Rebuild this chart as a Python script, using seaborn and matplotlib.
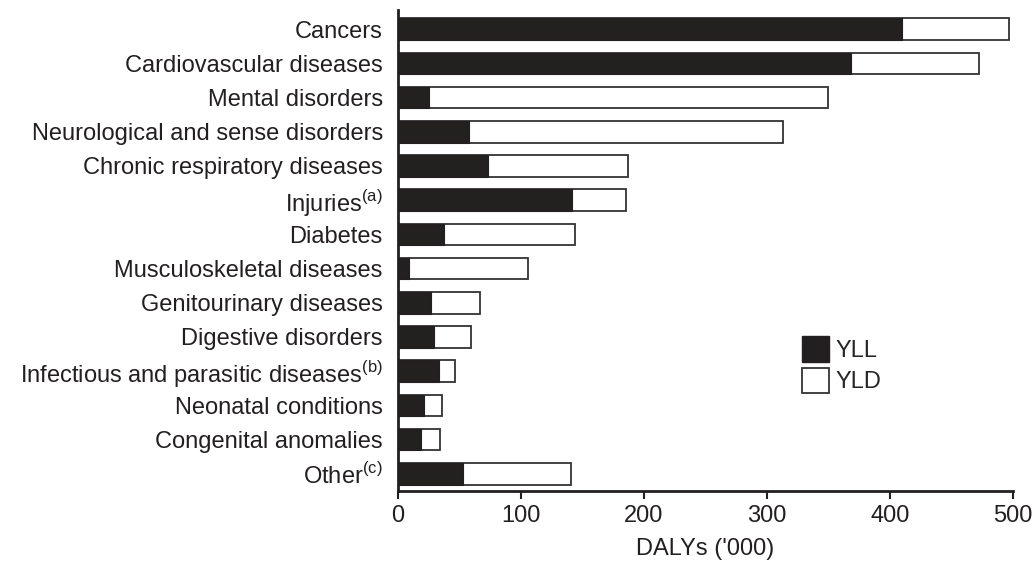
import pandas as pd
import matplotlib.pyplot as plt
import seaborn as sns
from matplotlib.patches import Patch

# data ('000 DALYs)
categories = [
    "Cancers",
    "Cardiovascular diseases",
    "Mental disorders",
    "Neurological and sense disorders",
    "Chronic respiratory diseases",
    "Injuries$^{\\mathregular{(a)}}$",
    "Diabetes",
    "Musculoskeletal diseases",
    "Genitourinary diseases",
    "Digestive disorders",
    "Infectious and parasitic diseases$^{\\mathregular{(b)}}$",
    "Neonatal conditions",
    "Congenital anomalies",
    "Other$^{\\mathregular{(c)}}$",
]
yll = [410, 368, 25, 57.5, 73.5, 141.5, 37, 9, 27, 29.5, 33.5, 21.5, 19, 53]
dalys = [497, 472, 349.5, 313, 187, 185, 144, 105.5, 67, 59.5, 46, 36, 34.5, 140.5]

df = pd.DataFrame({"category": categories, "YLL": yll, "DALY": dalys})

sns.set_theme(style="white")
plt.rcParams["font.family"] = ["Liberation Sans", "DejaVu Sans"]
plt.rcParams["mathtext.fontset"] = "custom"
plt.rcParams["mathtext.rm"] = "Liberation Sans"

black = "#231f20"
fs = 17

fig = plt.figure(figsize=(10.32, 5.63), dpi=100)
ax = fig.add_axes([0.3857, 0.128, 0.5959, 0.854])

# total bar (YLL + YLD) drawn first, YLL on top
sns.barplot(data=df, y="category", x="DALY", orient="h", color="white",
            edgecolor="#333333", linewidth=1.3, width=0.63, ax=ax)
sns.barplot(data=df, y="category", x="YLL", orient="h", color=black,
            edgecolor=black, linewidth=0.8, width=0.63, ax=ax)

ax.set_xlim(0, 500)
ax.set_ylim(13.5, -0.555)
ax.set_xticks([0, 100, 200, 300, 400, 500])
ax.set_xlabel("DALYs ('000)", fontsize=fs, color=black, labelpad=8)
ax.set_ylabel("")
ax.tick_params(axis="x", labelsize=fs, colors=black, length=6, width=1.5,
               direction="out", bottom=True, pad=4)
ax.tick_params(axis="y", labelsize=fs, colors=black, length=0, pad=11)

for side in ["top", "right"]:
    ax.spines[side].set_visible(False)
for side in ["left", "bottom"]:
    ax.spines[side].set_color(black)
    ax.spines[side].set_linewidth(2)

handles = [Patch(facecolor=black, edgecolor=black, label="YLL"),
           Patch(facecolor="white", edgecolor="#333333", linewidth=1.3, label="YLD")]
ax.legend(handles=handles, loc="upper left", bbox_to_anchor=(0.637, 0.347),
          frameon=False, fontsize=fs, handlelength=1.15, handleheight=1.3,
          handletextpad=0.3, labelspacing=0.25, borderpad=0)

fig.savefig("out.png", dpi=100)
